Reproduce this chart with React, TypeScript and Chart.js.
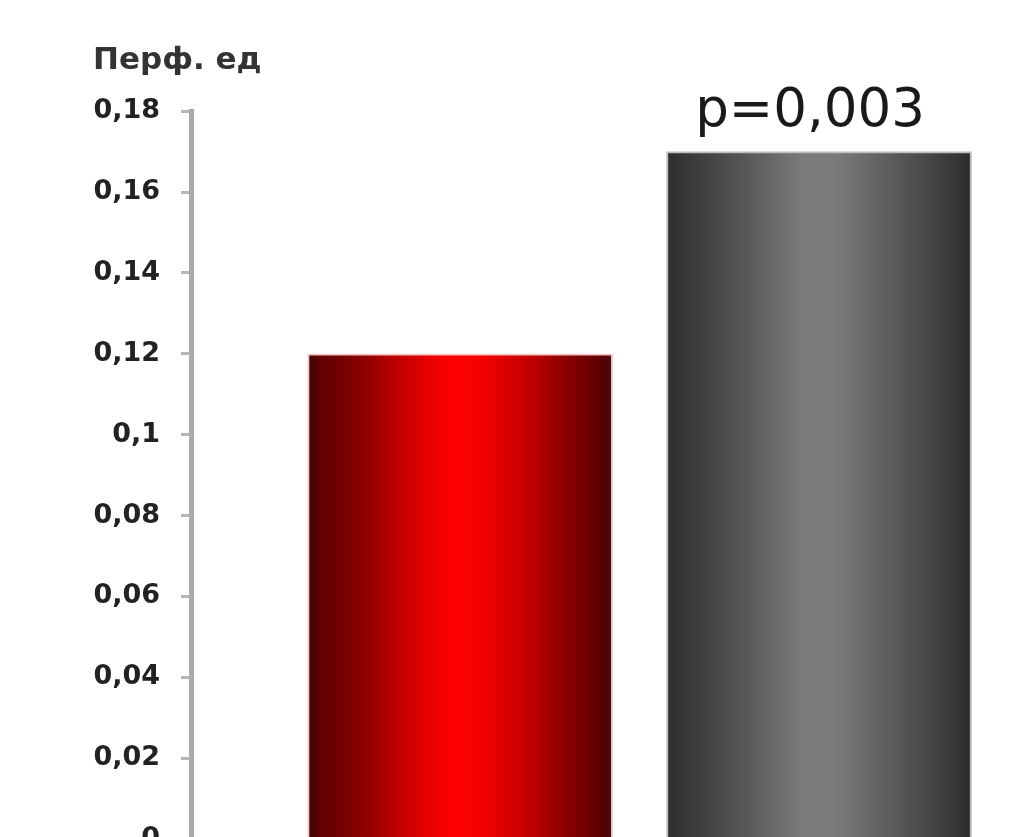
import React, { useEffect, useRef } from 'react';
import { Chart, registerables } from 'chart.js';

Chart.register(...registerables);

// Chart content
const axisTitle = 'Перф. ед';
const barValues = [0.12, 0.17];
const yTickLabels = ['0', '0,02', '0,04', '0,06', '0,08', '0,1', '0,12', '0,14', '0,16', '0,18'];
const pValueText = 'p=0,003';

// Horizontal shading of each bar (cylinder-like look)
const redStops: [number, string][] = [
  [0, '#3a0606'],
  [0.03, '#5e0000'],
  [0.15, '#820000'],
  [0.3, '#c20000'],
  [0.45, '#fb0000'],
  [0.55, '#fb0000'],
  [0.7, '#cc0000'],
  [0.85, '#8c0000'],
  [0.97, '#5a0000'],
  [1, '#460a10'],
];
const grayStops: [number, string][] = [
  [0, '#2e2e2e'],
  [0.05, '#363636'],
  [0.25, '#565656'],
  [0.45, '#7b7b7b'],
  [0.55, '#7b7b7b'],
  [0.75, '#5a5a5a'],
  [0.95, '#373737'],
  [1, '#2c2c2c'],
];
const barStops = [redStops, grayStops];
const barEdges = ['#f6c4c4', '#bdbdbd'];
const barFallback = ['#e00000', '#5a5a5a'];

const BAR_WIDTH = 305;

export default function App() {
  const canvasRef = useRef<HTMLCanvasElement>(null);

  useEffect(() => {
    const canvas = canvasRef.current;
    if (!canvas) return;

    const shade = (ctx: any) => {
      const { chart, dataIndex } = ctx;
      const area = chart.chartArea;
      const xs = chart.scales?.x;
      if (!area || !xs) return barFallback[dataIndex];
      const cx = xs.getPixelForValue(dataIndex + 1);
      const half = BAR_WIDTH / 2 - 2;
      const g = chart.ctx.createLinearGradient(cx - half, 0, cx + half, 0);
      for (const [offset, color] of barStops[dataIndex]) g.addColorStop(offset, color);
      return g;
    };

    const pValuePlugin = {
      id: 'pValueLabel',
      afterDatasetsDraw(chart: any) {
        const bar = chart.getDatasetMeta(0).data[1];
        if (!bar) return;
        const c = chart.ctx;
        c.save();
        c.font = '53px "DejaVu Sans"';
        c.fillStyle = '#1a1a1a';
        c.textAlign = 'center';
        c.textBaseline = 'alphabetic';
        c.fillText(pValueText, bar.x - 9, bar.y - 26);
        c.restore();
      },
    };

    const chart = new Chart(canvas, {
      type: 'bar',
      data: {
        datasets: [
          {
            data: barValues.map((v, i) => ({ x: i + 1, y: v })),
            backgroundColor: shade,
            borderColor: (ctx: any) => barEdges[ctx.dataIndex],
            borderWidth: 2,
            borderSkipped: 'bottom',
            barThickness: BAR_WIDTH,
          },
        ],
      },
      options: {
        responsive: false,
        animation: false,
        layout: { padding: { left: 93, right: 28.5, top: 0, bottom: 41 } },
        plugins: {
          legend: { display: false },
          tooltip: { enabled: false },
          title: {
            display: true,
            text: axisTitle,
            align: 'start',
            color: '#333333',
            font: { family: 'DejaVu Sans', size: 31, weight: 'bold', lineHeight: 1.2 },
            padding: { top: 42, bottom: 32 },
          },
        },
        scales: {
          x: {
            type: 'linear',
            display: false,
            offset: false,
            min: 0.25,
            max: 2.5,
            grid: { offset: false },
          },
          y: {
            min: 0,
            max: 0.18,
            afterFit: (scale: any) => {
              scale.width = 98;
            },
            border: { display: true, color: '#aaaaaa', width: 5 },
            grid: {
              drawOnChartArea: false,
              drawTicks: true,
              tickLength: 10,
              tickWidth: 3,
              tickColor: '#b5b5b5',
            },
            ticks: {
              stepSize: 0.02,
              padding: 21,
              color: '#222222',
              font: { family: 'DejaVu Sans', size: 27, weight: 'bold' },
              callback: (value: any) => yTickLabels[Math.round(Number(value) / 0.02)],
            },
          },
        },
      },
      plugins: [pValuePlugin],
    } as any);

    return () => chart.destroy();
  }, []);

  return (
    <div
      style={{
        position: 'fixed',
        left: 0,
        top: 0,
        width: 1027,
        height: 837,
        overflow: 'hidden',
        background: '#ffffff',
      }}
    >
      <canvas ref={canvasRef} width={1027} height={880} style={{ display: 'block' }} />
    </div>
  );
}
